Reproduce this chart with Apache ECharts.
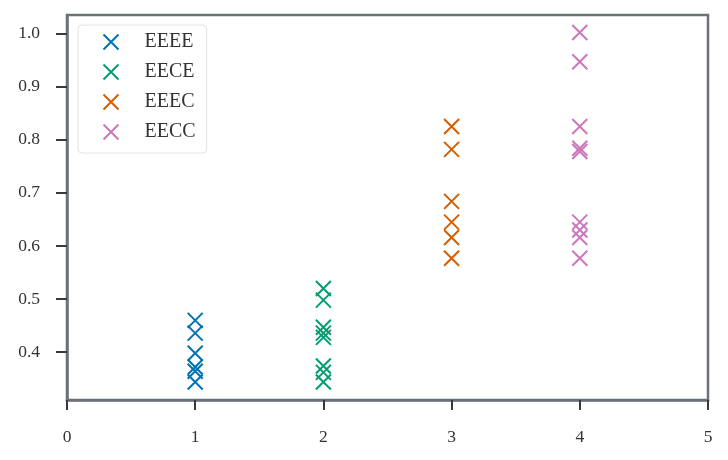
<!DOCTYPE html>
<html lang="en">
<head>
    <meta charset="UTF-8">
    <title>scatter</title>
    <script src="https://cdn.jsdelivr.net/npm/echarts@6/dist/echarts.min.js"></script>
    <style>body{margin:0;background:#fff;}</style>
</head>
<body>
<div id="main" style="width: 728px;height:460px;"></div>
<script type="text/javascript">
    // data
    var seriesNames = ['EEEE', 'EECE', 'EEEC', 'EECC'];
    var xPos = [1, 2, 3, 4];
    var eeee = [0.460, 0.436, 0.398, 0.372, 0.364, 0.344];
    var eece = [0.520, 0.498, 0.447, 0.436, 0.428, 0.374, 0.362, 0.344];
    var eeec = [0.825, 0.782, 0.684, 0.645, 0.616, 0.577];
    var eecc = [1.002, 0.947, 0.825, 0.784, 0.778, 0.645, 0.630, 0.616, 0.577];
    var yTicks = [0.4, 0.5, 0.6, 0.7, 0.8, 0.9, 1.0];
    var colors = ['#0173b2', '#029e73', '#d55e00', '#cc78bc'];

    var cross = 'path://M0,0L10,10M10,0L0,10';
    var font = 'Liberation Serif';
    var allValues = [eeee, eece, eeec, eecc];

    var series = [];
    for (var i = 0; i < seriesNames.length; i++) {
        series.push({
            name: seriesNames[i],
            type: 'scatter',
            symbol: cross,
            symbolSize: 15,
            itemStyle: {
                color: 'none',
                borderColor: colors[i],
                borderWidth: 2,
                opacity: 1
            },
            data: allValues[i].map(function (v) { return [xPos[i], v]; })
        });
    }

    var myChart = echarts.init(document.getElementById('main'));
    var option = {
        animation: false,
        backgroundColor: '#fff',
        grid: {
            left: 67, right: 20, top: 15, bottom: 60,
            show: true,
            borderColor: '#6b7079',
            borderWidth: 2.5
        },
        legend: {
            orient: 'vertical',
            left: 78,
            top: 25,
            padding: [7, 11, 11, 23],
            itemWidth: 15,
            itemHeight: 15,
            itemGap: 10,
            borderColor: '#e2e2e2',
            borderWidth: 1,
            borderRadius: 4,
            backgroundColor: '#fff',
            textStyle: {fontFamily: font, fontSize: 20, lineHeight: 20, color: '#333', padding: [0, 0, 0, 21]},
            data: seriesNames.map(function (n, i) {
                return {name: n, icon: cross, itemStyle: {color: 'none', borderColor: colors[i], borderWidth: 2}};
            })
        },
        xAxis: {
            type: 'value',
            min: 0, max: 5, interval: 1,
            splitLine: {show: false},
            axisLine: {show: true, lineStyle: {color: '#6b7079', width: 2.5}},
            axisTick: {show: true, length: 10, lineStyle: {color: '#3a3a3a', width: 2}},
            axisLabel: {fontFamily: font, fontSize: 17.5, color: '#333', margin: 28}
        },
        yAxis: {
            type: 'value',
            min: 0.31, max: 1.035,
            splitLine: {show: false},
            axisLine: {show: true, lineStyle: {color: '#6b7079', width: 2.5}},
            axisTick: {show: true, length: 11, customValues: yTicks, lineStyle: {color: '#3a3a3a', width: 2}},
            axisLabel: {fontFamily: font, fontSize: 17.5, color: '#333', margin: 27, customValues: yTicks,
                formatter: function (v) { return v.toFixed(1); }}
        },
        series: series
    };
    myChart.setOption(option);
</script>
</body>
</html>
